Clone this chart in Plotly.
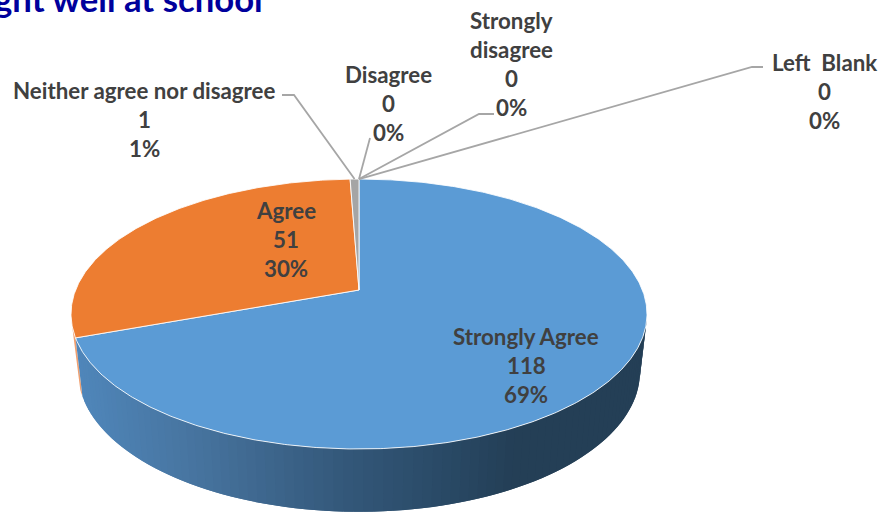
import numpy as np
import plotly.graph_objects as go

# slices, clockwise from 12 o'clock
CATEGORIES = ["Strongly Agree", "Agree", "Neither agree nor disagree", "Disagree", "Strongly\ndisagree", "Left\u00a0 Blank"]
VALUES = [118, 51, 1, 0, 0, 0]
COLORS = ["#5b9bd5", "#ed7d31", "#a5a5a5", "#ffc000", "#4472c4", "#70ad47"]

TITLE_TEXT = "ght well at school"
TITLE_COLOR = "#00009c"
LABEL_COLOR = "#404040"
LEADER_COLOR = "#a6a6a6"
FONT = "Lato"

W, H = 893, 512

# label centre x, first line y
LABEL_POS = [(526, 336.5), (286, 210.5), (144, 90.5), (388, 74.5), (511, 20.5), (824, 62.5)]
LINE_STEP = 29
# leader line elbows, from the label towards the rim
LEADERS = {
    2: [(282, 95), (294, 95)],
    3: [(370, 138)],
    4: [(494, 114), (479, 114)],
    5: [(763, 67), (752, 67)],
}

# wall shading: pixel x -> colour
WALL_STOPS_X = [75, 200, 350, 450, 520, 650]
WALL_STOPS_RGB = [(80, 135, 187), (71, 116, 159), (52, 88, 122), (42, 74, 102), (36, 63, 86), (36, 63, 86)]

# perspective of the tilted disc
CX, CY = 359, 290
A_TOP, B_TOP, K = 283.4, 130.7, 0.178
A_BOT, B_BOT, CY_BOT = 276.5, 135.6, 346.9


def rim(deg, a=A_TOP, b=B_TOP, cy=CY):
    t = np.radians(deg)
    u, v = np.sin(t), -np.cos(t)
    w = 1 - K * v
    return CX + a * u / w, cy + b * v / w


def wall_color(x):
    return "rgb(%d,%d,%d)" % tuple(np.interp(x, WALL_STOPS_X, [c[i] for c in WALL_STOPS_RGB]) for i in range(3))


def poly(xs, ys, fill, line=None, width=0):
    return go.Scatter(x=xs, y=ys, mode="lines", fill="toself", fillcolor=fill,
                      line=dict(color=line or fill, width=width), hoverinfo="skip", showlegend=False)


total = sum(VALUES)
edges = np.cumsum([0] + VALUES) / total * 360
fig = go.Figure()

# orange sliver of wall on the far left
a0 = edges[1]
sl = np.linspace(a0, a0 + 5, 8)
tx, ty = rim(sl)
bx, by = rim(sl, A_BOT, B_BOT, CY_BOT)
fig.add_trace(poly(np.r_[tx, bx[::-1]], np.r_[ty, by[::-1]], "#f0a070"))

# blue wall, left to right, strips overlap to avoid seams
# silhouette on the right is where the rim is widest
right = np.degrees(np.arctan2(np.sqrt(1 - K**2), -K))
angles = np.linspace(edges[1], right, 90)
for i in range(len(angles) - 2):
    seg = angles[i:i + 3]
    tx, ty = rim(seg)
    bx, by = rim(seg, A_BOT, B_BOT, CY_BOT)
    fig.add_trace(poly(np.r_[tx, bx[::-1]], np.r_[ty, by[::-1]], wall_color(tx.mean())))

# top face
for i in range(3):
    arc = np.linspace(edges[i], edges[i + 1], max(3, int(edges[i + 1] - edges[i]) * 2))
    ax, ay = rim(arc)
    fig.add_trace(poly(np.r_[CX, ax, CX], np.r_[CY, ay, CY], COLORS[i], "rgba(255,255,255,0.85)", 1))

# leader lines
for i, pts in LEADERS.items():
    ex, ey = rim((edges[i] + edges[i + 1]) / 2)
    xs = [p[0] for p in pts] + [float(ex)]
    ys = [p[1] for p in pts] + [float(ey)]
    fig.add_trace(go.Scatter(x=xs, y=ys, mode="lines", line=dict(color=LEADER_COLOR, width=1.8),
                             hoverinfo="skip", showlegend=False))

# labels, one annotation per line
for cat, val, (lx, ly) in zip(CATEGORIES, VALUES, LABEL_POS):
    lines = cat.split("\n") + [str(val), f"{round(val / total * 100)}%"]
    for j, s in enumerate(lines):
        fig.add_annotation(x=lx, y=ly + j * LINE_STEP, text=f"<b>{s}</b>", showarrow=False,
                           xanchor="center", yanchor="middle",
                           font=dict(family=FONT, size=22.3, color=LABEL_COLOR))

fig.add_annotation(x=265, y=0, yshift=2, text=f"<b>{TITLE_TEXT}</b>", showarrow=False, xanchor="right", yanchor="middle",
                   font=dict(family=FONT, size=34.7, color=TITLE_COLOR))

fig.update_layout(
    width=W, height=H, margin=dict(l=0, r=0, t=0, b=0),
    paper_bgcolor="white", plot_bgcolor="white", showlegend=False,
    xaxis=dict(range=[0, W], visible=False, fixedrange=True),
    yaxis=dict(range=[H, 0], visible=False, fixedrange=True),
)

fig.write_html("out.html", post_script="document.body.style.margin='0';", config={"displayModeBar": False})
